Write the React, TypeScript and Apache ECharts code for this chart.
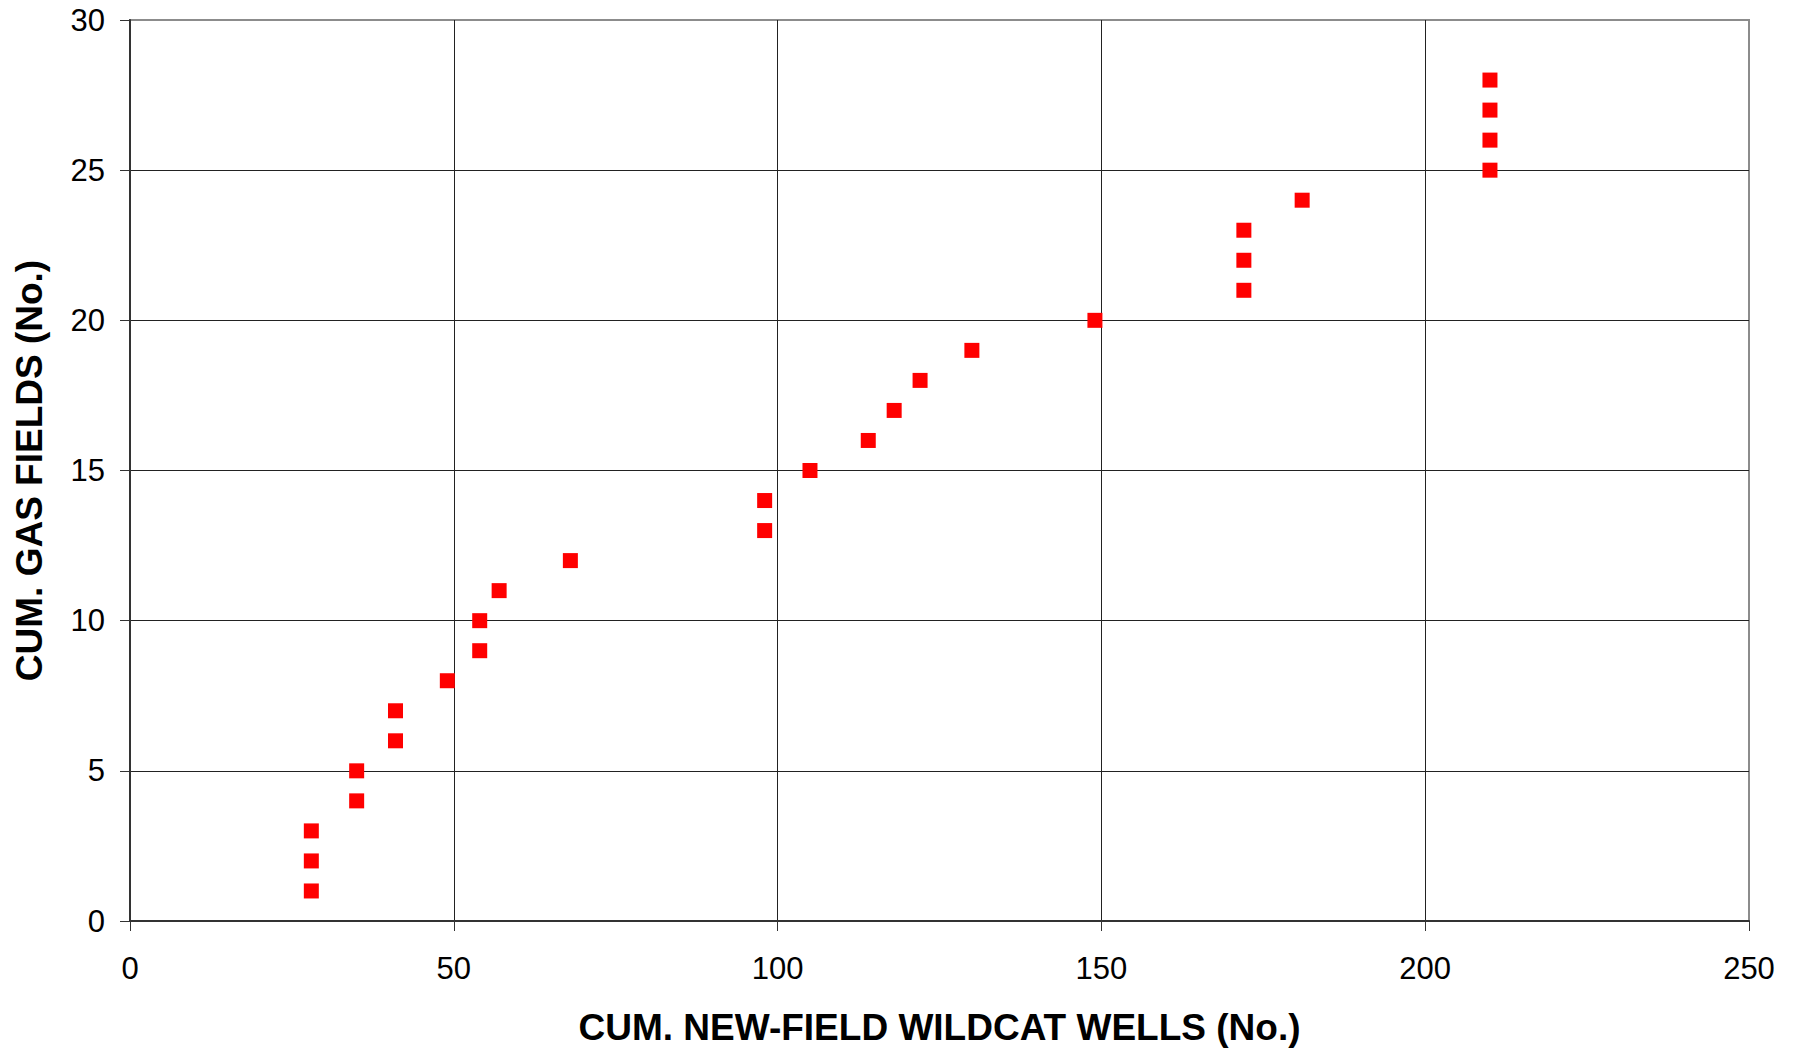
import React, { useEffect, useRef } from "react";
import * as echarts from "echarts";

// Cumulative new-field wildcat wells (x) vs cumulative gas fields (y)
const wells = [28, 28, 28, 35, 35, 41, 41, 49, 54, 54, 57, 68, 98, 98, 105, 114, 118, 122, 130, 149, 172, 172, 172, 181, 210, 210, 210, 210];
const fields = [1, 2, 3, 4, 5, 6, 7, 8, 9, 10, 11, 12, 13, 14, 15, 16, 17, 18, 19, 20, 21, 22, 23, 24, 25, 26, 27, 28];

const xTitle = "CUM. NEW-FIELD WILDCAT WELLS (No.)";
const yTitle = "CUM. GAS FIELDS (No.)";

const FONT = "'Liberation Sans', Arial, Helvetica, sans-serif";

export default function App() {
  const ref = useRef<HTMLDivElement>(null);
  useEffect(() => {
    if (!ref.current) return;
    const chart = echarts.init(ref.current, undefined, { renderer: "svg" });
    const data = wells.map((w, i) => [w, fields[i]]);
    chart.setOption({
      animation: false,
      backgroundColor: "#ffffff",
      grid: {
        left: 130,
        right: 48,
        top: 20,
        bottom: 130,
        show: true,
        borderColor: "#8c8c8c",
        borderWidth: 2,
        backgroundColor: "transparent",
      },
      xAxis: {
        type: "value",
        min: 0,
        max: 250,
        interval: 50,
        name: xTitle,
        nameLocation: "middle",
        nameGap: 88,
        nameTextStyle: { fontFamily: FONT, fontSize: 37, fontWeight: "bold", color: "#000" },
        axisLine: { show: true, onZero: false, lineStyle: { color: "#333", width: 2 } },
        axisTick: { show: true, length: 10, lineStyle: { color: "#333", width: 1 } },
        axisLabel: { fontFamily: FONT, fontSize: 31, color: "#000", margin: 32 },
        splitLine: { show: true, showMinLine: false, showMaxLine: false, lineStyle: { color: "#222", width: 1 } },
      },
      yAxis: {
        type: "value",
        min: 0,
        max: 30,
        interval: 5,
        name: yTitle,
        nameLocation: "middle",
        nameRotate: 90,
        nameGap: 82,
        nameTextStyle: { fontFamily: FONT, fontSize: 37, fontWeight: "bold", color: "#000" },
        axisLine: { show: true, onZero: false, lineStyle: { color: "#333", width: 2 } },
        axisTick: { show: true, length: 10, lineStyle: { color: "#333", width: 1 } },
        axisLabel: { fontFamily: FONT, fontSize: 31, color: "#000", margin: 25 },
        splitLine: { show: true, showMinLine: false, showMaxLine: false, lineStyle: { color: "#222", width: 1 } },
      },
      series: [
        {
          type: "scatter",
          data,
          symbol: "rect",
          symbolSize: 15,
          itemStyle: { color: "#ff0000", opacity: 1 },
          z: 5,
        },
      ],
    });
    return () => chart.dispose();
  }, []);
  return (
    <div
      ref={ref}
      style={{ position: "absolute", left: 0, top: 0, width: 1797, height: 1051, background: "#fff" }}
    />
  );
}
